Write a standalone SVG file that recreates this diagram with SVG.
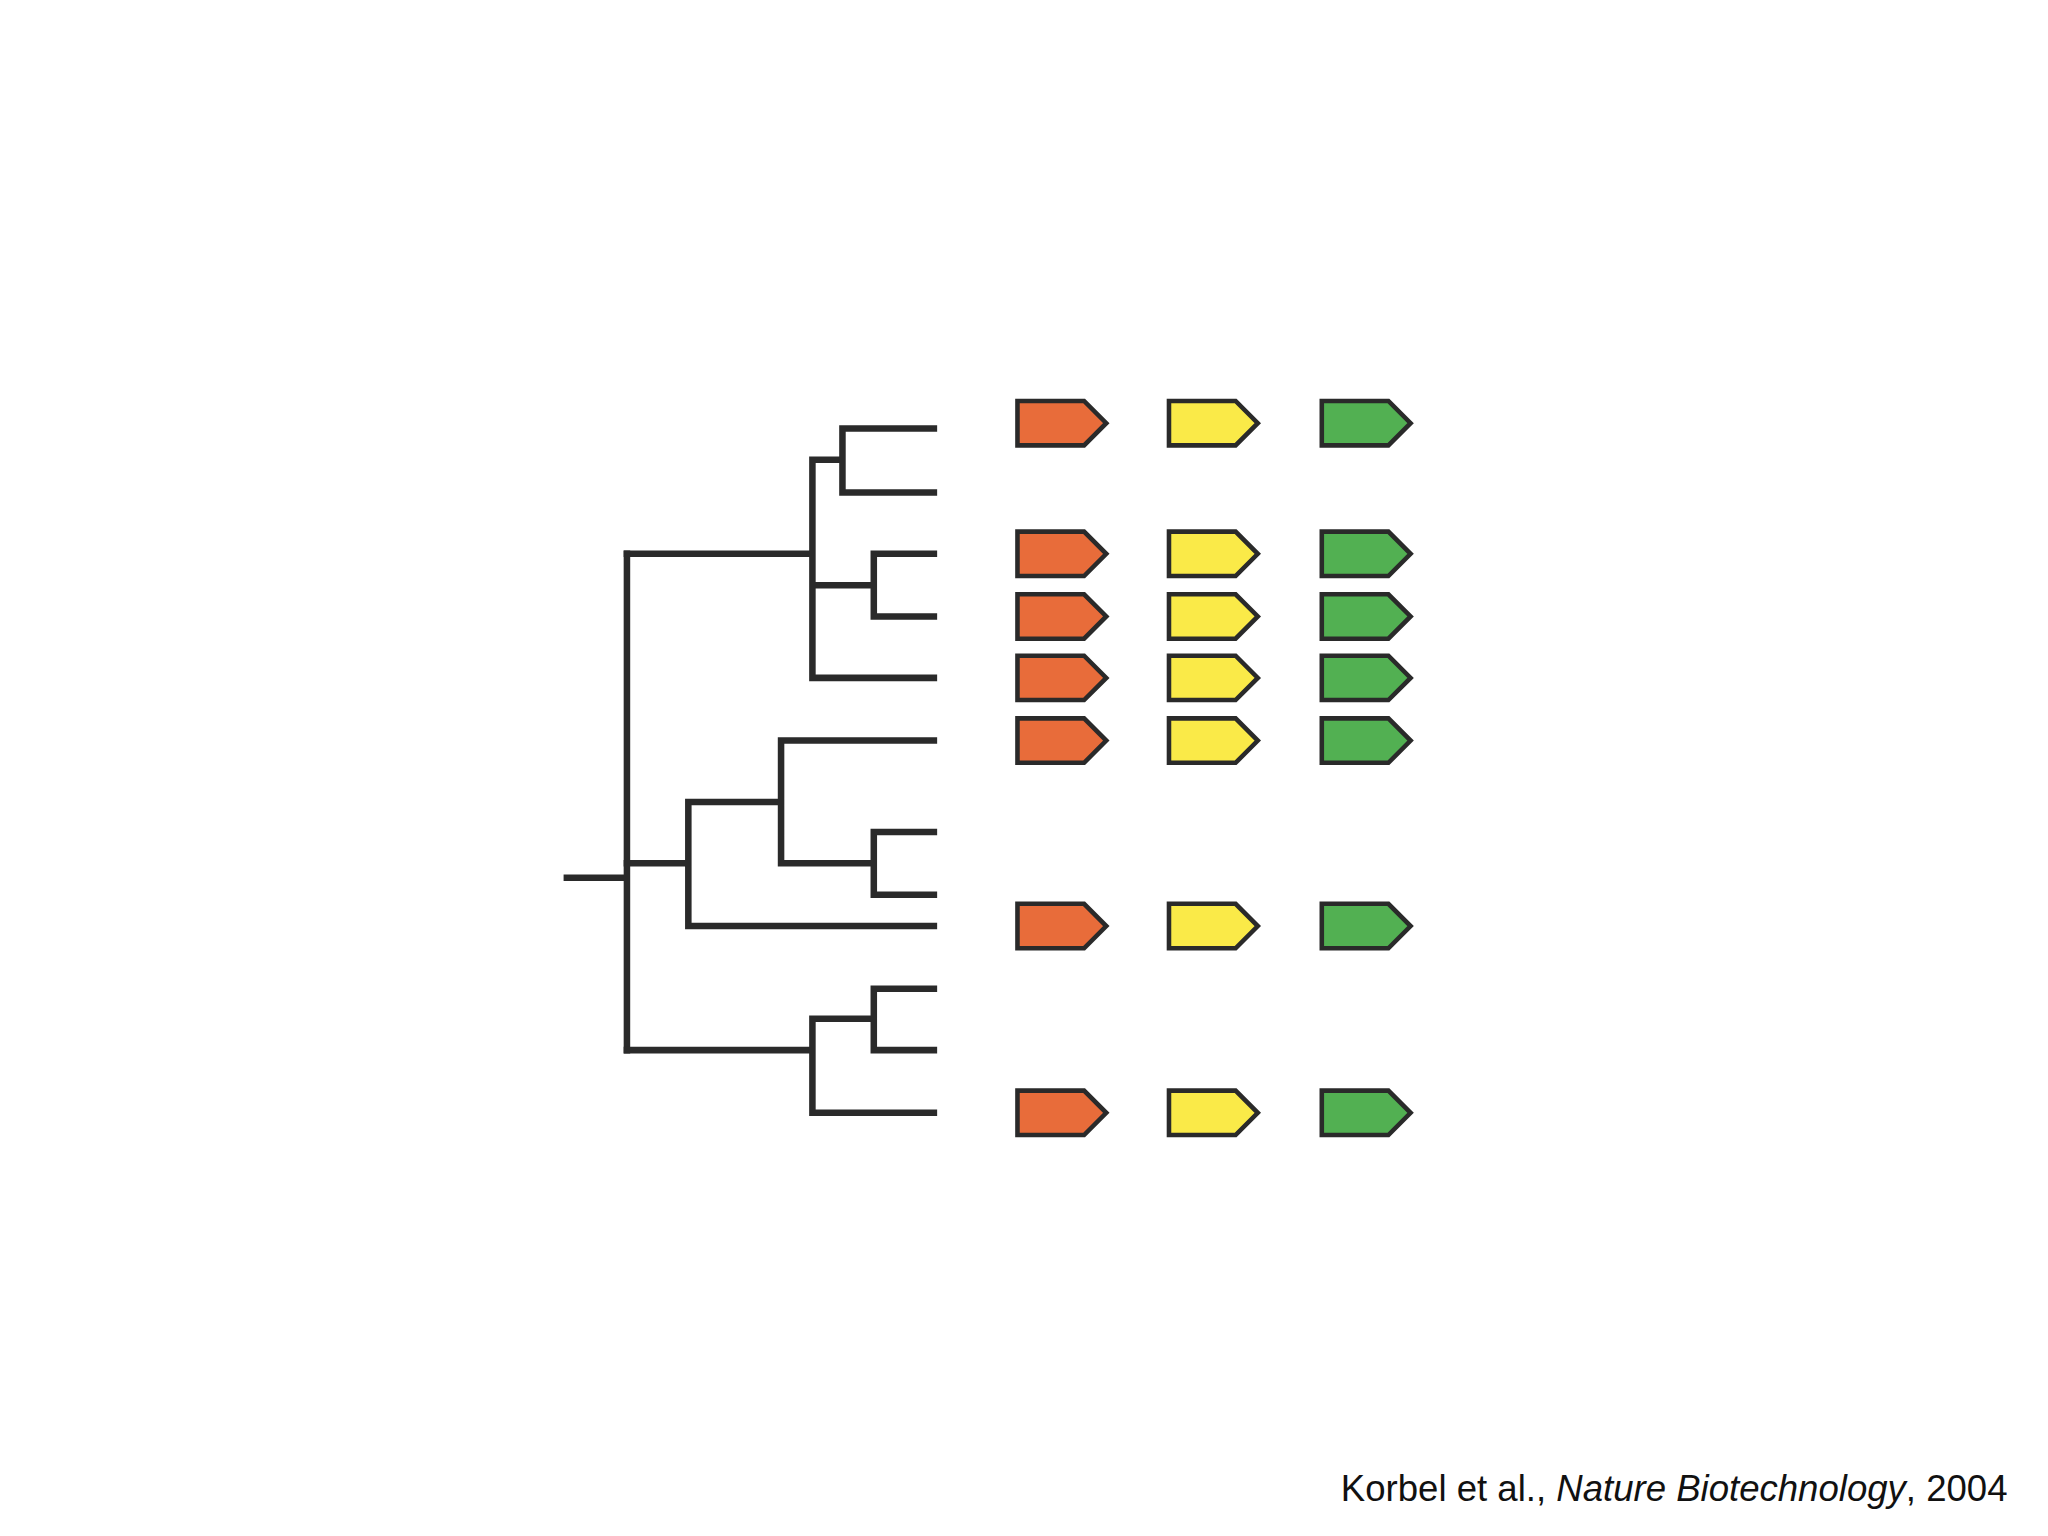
<svg xmlns="http://www.w3.org/2000/svg" width="2048" height="1536" viewBox="0 0 2048 1536">
<style>
.t{fill:none;stroke:#2a2a2a;stroke-width:5;stroke-linecap:square}
.a{stroke:#2a2a2a;stroke-width:3.5}
.o{fill:#E86C3A}.y{fill:#FAEA48}.g{fill:#52B052}
</style>
<defs><path id="arr" d="M0,-17 H51 L68,0 L51,17 H0 Z"/></defs>
<rect width="2048" height="1536" fill="#fff"/>
<g transform="scale(1.30612)">
<g id="tree" class="t">
<path d="M434,672 H480 M480,424 V804"/>
<path d="M480,424 H622 M622,352 V519 M622,352 H645 M645,328 V377 M645,328 H715 M645,377 H715 M622,448 H669 M669,424 V472 M669,424 H715 M669,472 H715 M622,519 H715"/>
<path d="M480,661 H527 M527,614 V709 M527,614 H598 M598,567 V661 M598,567 H715 M598,661 H669 M669,637 V685 M669,637 H715 M669,685 H715 M527,709 H715"/>
<path d="M480,804 H622 M622,780 V852 M622,780 H669 M669,757 V804 M669,757 H715 M669,804 H715 M622,852 H715"/>
</g>
<g id="genes" class="a">
<g id="r1"><use href="#arr" x="779" y="324" class="o"/><use href="#arr" x="895" y="324" class="y"/><use href="#arr" x="1012" y="324" class="g"/></g>
<g id="r2"><use href="#arr" x="779" y="424" class="o"/><use href="#arr" x="895" y="424" class="y"/><use href="#arr" x="1012" y="424" class="g"/></g>
<g id="r3"><use href="#arr" x="779" y="472" class="o"/><use href="#arr" x="895" y="472" class="y"/><use href="#arr" x="1012" y="472" class="g"/></g>
<g id="r4"><use href="#arr" x="779" y="519" class="o"/><use href="#arr" x="895" y="519" class="y"/><use href="#arr" x="1012" y="519" class="g"/></g>
<g id="r5"><use href="#arr" x="779" y="567" class="o"/><use href="#arr" x="895" y="567" class="y"/><use href="#arr" x="1012" y="567" class="g"/></g>
<g id="r6"><use href="#arr" x="779" y="709" class="o"/><use href="#arr" x="895" y="709" class="y"/><use href="#arr" x="1012" y="709" class="g"/></g>
<g id="r7"><use href="#arr" x="779" y="852" class="o"/><use href="#arr" x="895" y="852" class="y"/><use href="#arr" x="1012" y="852" class="g"/></g>
</g>
<text x="1537" y="1149" text-anchor="end" font-family="Liberation Sans, Arial, sans-serif" font-size="28" fill="#111">Korbel et al., <tspan font-style="italic">Nature Biotechnology</tspan>, 2004</text>
</g>
</svg>
